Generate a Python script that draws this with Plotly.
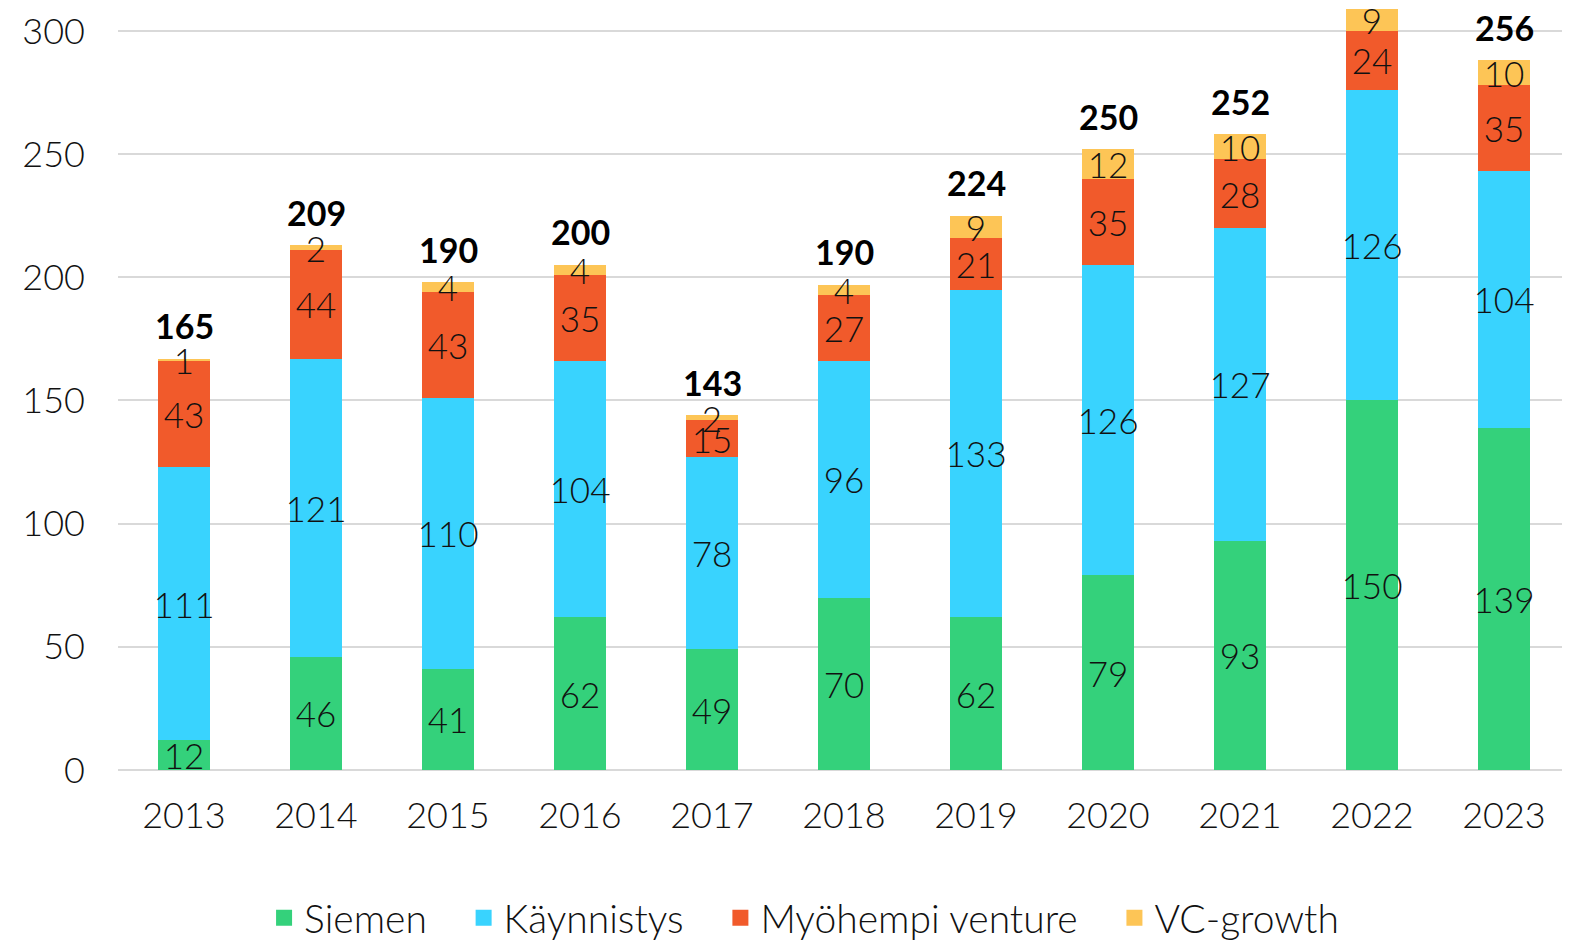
import plotly.graph_objects as go

years = ["2013", "2014", "2015", "2016", "2017", "2018", "2019", "2020", "2021", "2022", "2023"]
siemen = [12, 46, 41, 62, 49, 70, 62, 79, 93, 150, 139]
kaynnistys = [111, 121, 110, 104, 78, 96, 133, 126, 127, 126, 104]
myohempi = [43, 44, 43, 35, 15, 27, 21, 35, 28, 24, 35]
vc_growth = [1, 2, 4, 4, 2, 4, 9, 12, 10, 9, 10]
total_labels = ["165", "209", "190", "200", "143", "190", "224", "250", "252", "", "256"]
y_ticks = [0, 50, 100, 150, 200, 250, 300]

series = [
    ("Siemen", siemen, "#34D17B"),
    ("Käynnistys", kaynnistys, "#39D3FE"),
    ("Myöhempi venture", myohempi, "#F15A2B"),
    ("VC-growth", vc_growth, "#FDC556"),
]

FONT = "Lato"
NBSP = "\u00a0"

fig = go.Figure()
for name, vals, col in series:
    fig.add_trace(go.Bar(
        x=years, y=vals, name=name,
        marker=dict(color=col, line=dict(width=0)),
        text=[str(v) for v in vals],
        textposition="inside",
        insidetextanchor="middle",
        constraintext="none",
        textangle=0,
        textfont=dict(family=FONT, size=35, color="#111111", weight=300),
        cliponaxis=False,
        hoverinfo="skip",
        showlegend=False,
    ))

# legend entries with larger square swatches
for k, (name, vals, col) in enumerate(series):
    pad = NBSP * 3 if k < len(series) - 1 else ""
    fig.add_trace(go.Scatter(
        x=[None], y=[None], mode="markers", name=name + pad,
        marker=dict(symbol="square", size=18, color=col),
        showlegend=True, hoverinfo="skip",
    ))

stack_tops = [a + b + c + d for a, b, c, d in zip(siemen, kaynnistys, myohempi, vc_growth)]
for i, (top, lab) in enumerate(zip(stack_tops, total_labels)):
    if lab:
        fig.add_annotation(
            x=i, y=top, text=f"<b>{lab}</b>", showarrow=False,
            xref="x", yref="y",
            yanchor="middle", yshift=33,
            font=dict(family=FONT, size=34, color="#000000"),
        )

fig.update_layout(
    barmode="stack",
    bargap=0.6,
    width=1562, height=933,
    margin=dict(l=110, r=0, t=0, b=171, autoexpand=False),
    plot_bgcolor="white", paper_bgcolor="white",
    font=dict(family=FONT, size=36, color="#111111", weight=300),
    legend=dict(
        orientation="h", xanchor="center", x=0.4725,
        yanchor="middle", y=-0.194,
        font=dict(family=FONT, size=39, color="#111111", weight=300),
        traceorder="normal", itemsizing="trace",
        tracegroupgap=0,
    ),
    showlegend=True,
)
fig.update_yaxes(
    range=[0, 309.3], tickvals=y_ticks, ticktext=[str(v) for v in y_ticks],
    showgrid=True, gridcolor="#D9D9D9", gridwidth=2,
    zeroline=True, zerolinecolor="#D9D9D9", zerolinewidth=2,
    showline=False, ticks="", ticklabelstandoff=32, automargin=False,
    ticklabeloverflow="allow",
    tickfont=dict(family=FONT, size=36, color="#111111", weight=300),
)
fig.update_xaxes(
    type="category", categoryorder="array", categoryarray=years,
    range=[-0.5, len(years) - 0.5],
    showgrid=False, showline=False, ticks="", ticklabelstandoff=21, automargin=False,
    ticklabeloverflow="allow",
    tickfont=dict(family=FONT, size=36, color="#111111", weight=300),
)

fig.write_html("out.html")
